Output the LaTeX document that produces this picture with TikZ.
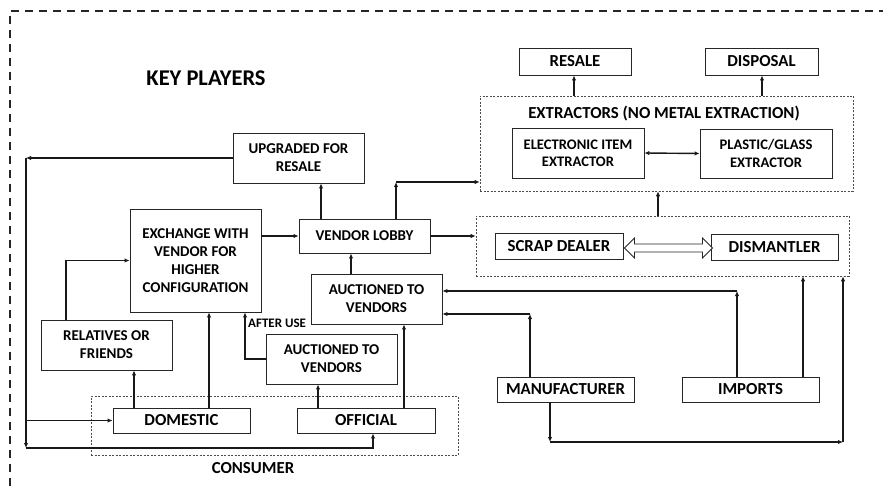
\documentclass[tikz,border=0pt]{standalone}
\usepackage{fontspec}
\setmainfont{Carlito}
\usetikzlibrary{arrows.meta,calc}
\begin{document}
\begin{tikzpicture}[x=1pt,y=-1pt,
  box/.style={draw=black!85,line width=0.9pt,fill=white,inner sep=0pt,align=center,
    text=black,font=\bfseries\fontsize{15}{18}\selectfont},
  bbox/.style={box,font=\bfseries\fontsize{16.8}{20}\selectfont},
  sbox/.style={box,font=\bfseries\fontsize{14.6}{17.3}\selectfont},
  grp/.style={draw=black!70,line width=0.6pt,dash pattern=on 2pt off 1.5pt,inner sep=0pt},
  lbl/.style={text=black,inner sep=0pt,font=\bfseries\fontsize{16.8}{20}\selectfont},
  arr/.style={draw=black!90,line width=1.4pt,-{Latex[length=5pt,width=4.5pt]}},
  dbl/.style={draw=black!90,line width=1.4pt,{Latex[length=5pt,width=4.5pt]}-{Latex[length=5pt,width=4.5pt]}}]
\useasboundingbox (0,0) rectangle (883,486);
\draw[line width=1.6pt,dash pattern=on 8pt off 6pt,black!85] (10,486) -- (10,11) -- (883,11);

% group containers
\node[grp,minimum width=367pt,minimum height=59pt] (cons) at (274.5,425.5) {};
\node[grp,minimum width=373pt,minimum height=60pt] (scrapbox) at (662.5,246) {};
\node[grp,minimum width=373pt,minimum height=95pt] (extr) at (666.5,143.5) {};

% labels
\node[lbl,font=\bfseries\fontsize{22.5}{26}\selectfont] (kp) at (206,78) {KEY PLAYERS};
\node[lbl] (conslbl) at (253,468) {CONSUMER};
\node[lbl] (extrlbl) at (664,114) {EXTRACTORS (NO METAL EXTRACTION)};
\node[lbl,anchor=west,font=\bfseries\fontsize{13}{15}\selectfont] (after) at (248,323) {AFTER USE};

% boxes
\node[box,minimum width=131pt,minimum height=50pt] (upg) at (298.5,158) {UPGRADED FOR\\RESALE};
\node[box,minimum width=131pt,minimum height=103pt] (exch) at (195.5,260.5) {EXCHANGE WITH\\VENDOR FOR\\HIGHER\\CONFIGURATION};
\node[box,minimum width=131pt,minimum height=34pt] (vl) at (364.5,236) {VENDOR LOBBY};
\node[box,minimum width=131pt,minimum height=50pt] (auc1) at (376.5,299) {AUCTIONED TO\\VENDORS};
\node[box,minimum width=131pt,minimum height=50pt] (auc2) at (331.5,359) {AUCTIONED TO\\VENDORS};
\node[box,minimum width=131pt,minimum height=50pt] (rel) at (106.5,345) {RELATIVES OR\\FRIENDS};
\node[bbox,minimum width=137pt,minimum height=25pt] (dom) at (181.5,420.5) {DOMESTIC};
\node[bbox,minimum width=138pt,minimum height=25pt] (off) at (366,420.5) {OFFICIAL};
\node[bbox,minimum width=137pt,minimum height=25pt] (mfr) at (565.5,389.5) {MANUFACTURER};
\node[bbox,minimum width=137pt,minimum height=25pt] (imp) at (750.5,389.5) {IMPORTS};
\node[bbox,minimum width=128pt,minimum height=26pt] (sd) at (559,246) {SCRAP DEALER};
\node[bbox,minimum width=127pt,minimum height=26pt] (dis) at (774.5,247) {DISMANTLER};
\node[sbox,minimum width=132pt,minimum height=50pt] (ele) at (578,153) {ELECTRONIC ITEM\\EXTRACTOR};
\node[sbox,minimum width=132pt,minimum height=49pt] (pla) at (766,153.5) {PLASTIC/GLASS\\EXTRACTOR};
\node[bbox,minimum width=112pt,minimum height=27pt] (res) at (575,61.5) {RESALE};
\node[bbox,minimum width=113pt,minimum height=27pt] (dsp) at (761.5,61.5) {DISPOSAL};

% connectors
\coordinate (ul) at (26,158);
\coordinate (bl) at (26,448);
\draw[arr] (upg.west) -- (ul);
\draw[arr] (ul) -- (bl);
\draw[arr] (ul |- dom.west) -- (dom.west);
\draw[arr] (bl) -- (373,448) -- (373,0 |- off.south);
\draw[arr] (134,0 |- dom.north) -- (134,0 |- rel.south);
\draw[arr] (66,0 |- rel.north) |- (exch.west);
\draw[arr] (209,0 |- dom.north) -- (209,0 |- exch.south);
\draw[arr] (auc2.west) -| (245,0 |- exch.south);
\draw[arr] (318,0 |- off.north) -- (318,0 |- auc2.south);
\draw[arr] (404,0 |- off.north) -- (404,0 |- auc1.south);
\draw[arr] (351,0 |- auc1.north) -- (351,0 |- vl.south);
\draw[arr] (exch.east |- vl.west) -- (vl.west);
\draw[arr] (321,0 |- vl.north) -- (321,0 |- upg.south);
\coordinate (vc) at (396,182);
\draw[arr] (vc |- vl.north) -- (vc);
\draw[arr] (vc) -- (vc -| extr.west);
\draw[arr] (vl.east) -- (vl.east -| scrapbox.west);
\draw[arr] (658,0 |- scrapbox.north) -- (658,0 |- extr.south);
\draw[arr] (574,0 |- extr.north) -- (574,0 |- res.south);
\draw[arr] (762,0 |- extr.north) -- (762,0 |- dsp.south);
\draw[dbl] (ele.east) -- (pla.west);
\coordinate (L) at ($(sd.east)+(1,2)$);
\draw[draw=black!85,line width=0.9pt,fill=white] (L) -- ++(10,-10) -- ++(0,6) -- ++(68,0) -- ++(0,-6) -- ++(10,10) -- ++(-10,10) -- ++(0,-6) -- ++(-68,0) -- ++(0,6) -- cycle;
\coordinate (ic) at (737,291);
\draw[arr] (ic |- imp.north) -- (ic);
\draw[arr] (ic) -- (ic -| auc1.east);
\coordinate (mc) at (530,314);
\draw[arr] (mc |- mfr.north) -- (mc);
\draw[arr] (mc) -- (mc -| auc1.east);
\draw[arr] (803,0 |- imp.north) -- (803,0 |- scrapbox.south);
\coordinate (m1) at (550,442);
\coordinate (m2) at (843,442);
\draw[arr] (m1 |- mfr.south) -- (m1);
\draw[arr] (m1) -- (m2);
\draw[arr] (m2) -- (m2 |- scrapbox.south);
\end{tikzpicture}
\end{document}
